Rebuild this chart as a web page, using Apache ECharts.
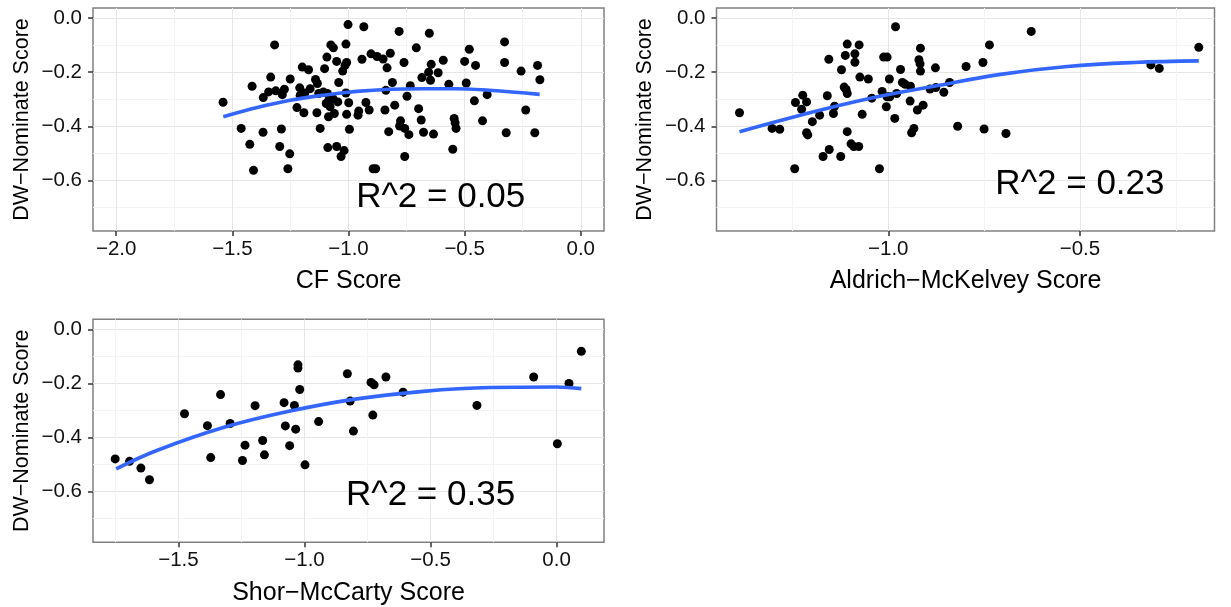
<!DOCTYPE html>
<html>
<head>
<meta charset="utf-8">
<script src="https://cdn.jsdelivr.net/npm/echarts@6/dist/echarts.min.js"></script>
<style>
html,body{margin:0;padding:0;background:#fff;}
#chart{width:1231px;height:607px;}
</style>
</head>
<body>
<div id="chart"></div>
<script>
// ---------- data ----------
var cfPoints = [
[-1.540,-0.311],[-1.462,-0.408],[-1.425,-0.467],[-1.415,-0.252],[-1.409,-0.563],[-1.368,-0.422],
[-1.367,-0.294],[-1.344,-0.273],[-1.335,-0.218],[-1.318,-0.099],[-1.313,-0.269],[-1.296,-0.475],
[-1.289,-0.410],[-1.285,-0.283],[-1.276,-0.263],[-1.261,-0.557],[-1.253,-0.502],[-1.251,-0.225],
[-1.222,-0.331],[-1.210,-0.258],[-1.208,-0.285],[-1.199,-0.181],[-1.192,-0.350],[-1.188,-0.277],
[-1.172,-0.191],[-1.165,-0.261],[-1.142,-0.227],[-1.136,-0.350],[-1.134,-0.242],[-1.122,-0.408],
[-1.128,-0.279],[-1.108,-0.273],[-1.103,-0.187],[-1.096,-0.316],[-1.093,-0.144],[-1.091,-0.279],
[-1.089,-0.479],[-1.086,-0.365],[-1.085,-0.304],[-1.079,-0.328],[-1.076,-0.099],[-1.066,-0.299],
[-1.065,-0.110],[-1.061,-0.353],[-1.051,-0.475],[-1.046,-0.310],[-1.051,-0.160],[-1.042,-0.238],
[-1.032,-0.512],[-1.025,-0.196],[-1.019,-0.490],[-1.015,-0.175],[-1.011,-0.096],[-1.008,-0.164],
[-1.011,-0.277],[-1.008,-0.356],[-1.002,-0.024],[-0.999,-0.313],[-0.996,-0.411],[-0.959,-0.359],
[-0.956,-0.344],[-0.942,-0.152],[-0.934,-0.032],[-0.925,-0.312],[-0.911,-0.340],[-0.903,-0.132],
[-0.894,-0.557],[-0.883,-0.557],[-0.877,-0.142],[-0.851,-0.151],[-0.843,-0.340],[-0.839,-0.267],
[-0.834,-0.184],[-0.827,-0.420],[-0.820,-0.130],[-0.811,-0.238],[-0.801,-0.322],[-0.782,-0.049],
[-0.780,-0.399],[-0.776,-0.380],[-0.761,-0.164],[-0.758,-0.512],[-0.758,-0.408],[-0.748,-0.289],
[-0.740,-0.431],[-0.734,-0.250],[-0.708,-0.110],[-0.698,-0.335],[-0.687,-0.377],[-0.684,-0.220],
[-0.677,-0.422],[-0.655,-0.200],[-0.652,-0.056],[-0.647,-0.230],[-0.644,-0.171],[-0.634,-0.429],
[-0.614,-0.202],[-0.592,-0.156],[-0.568,-0.245],[-0.551,-0.485],[-0.545,-0.371],[-0.541,-0.387],
[-0.537,-0.408],[-0.500,-0.160],[-0.493,-0.240],[-0.480,-0.115],[-0.458,-0.306],[-0.453,-0.175],
[-0.423,-0.380],[-0.403,-0.283],[-0.328,-0.088],[-0.328,-0.164],[-0.321,-0.424],[-0.257,-0.196],
[-0.237,-0.340],[-0.198,-0.424],[-0.186,-0.175],[-0.176,-0.228]
];
var cfFit = [[-1.539,-0.365],[-1.393,-0.331],[-1.251,-0.304],[-1.108,-0.285],[-0.965,-0.271],
[-0.822,-0.263],[-0.680,-0.261],[-0.537,-0.261],[-0.394,-0.267],[-0.177,-0.282]];

var amPoints = [
[-1.388,-0.350],[-1.303,-0.408],[-1.283,-0.411],[-1.244,-0.557],[-1.242,-0.312],[-1.226,-0.337],
[-1.223,-0.285],[-1.213,-0.310],[-1.213,-0.424],[-1.210,-0.432],[-1.198,-0.383],[-1.179,-0.359],
[-1.170,-0.512],[-1.159,-0.287],[-1.155,-0.152],[-1.154,-0.486],[-1.143,-0.353],[-1.140,-0.326],
[-1.124,-0.512],[-1.122,-0.191],[-1.115,-0.255],[-1.112,-0.138],[-1.110,-0.264],[-1.107,-0.096],
[-1.107,-0.279],[-1.107,-0.420],[-1.097,-0.465],[-1.090,-0.475],[-1.087,-0.132],[-1.087,-0.163],
[-1.077,-0.475],[-1.076,-0.099],[-1.074,-0.218],[-1.068,-0.356],[-1.052,-0.225],[-1.043,-0.296],
[-1.023,-0.557],[-1.016,-0.271],[-1.012,-0.144],[-1.005,-0.328],[-1.003,-0.144],[-1.003,-0.291],
[-0.997,-0.225],[-0.996,-0.291],[-0.983,-0.371],[-0.981,-0.032],[-0.978,-0.279],[-0.968,-0.190],
[-0.963,-0.238],[-0.956,-0.245],[-0.943,-0.307],[-0.942,-0.252],[-0.939,-0.424],[-0.933,-0.408],
[-0.924,-0.340],[-0.920,-0.154],[-0.917,-0.169],[-0.916,-0.111],[-0.916,-0.196],[-0.909,-0.322],
[-0.891,-0.262],[-0.877,-0.184],[-0.876,-0.257],[-0.855,-0.274],[-0.840,-0.238],[-0.819,-0.400],
[-0.797,-0.179],[-0.753,-0.164],[-0.750,-0.410],[-0.736,-0.099],[-0.693,-0.427],[-0.627,-0.049],
[-0.315,-0.173],[-0.293,-0.186],[-0.190,-0.108]
];
var amFit = [[-1.388,-0.420],[-1.229,-0.359],[-1.055,-0.299],[-0.881,-0.252],[-0.707,-0.208],
[-0.533,-0.179],[-0.359,-0.164],[-0.190,-0.158]];

var smPoints = [
[-1.751,-0.479],[-1.694,-0.488],[-1.649,-0.513],[-1.615,-0.556],[-1.476,-0.312],[-1.385,-0.356],
[-1.372,-0.474],[-1.333,-0.241],[-1.295,-0.348],[-1.246,-0.485],[-1.236,-0.428],[-1.196,-0.282],
[-1.166,-0.411],[-1.159,-0.464],[-1.081,-0.271],[-1.076,-0.357],[-1.059,-0.430],[-1.040,-0.281],
[-1.035,-0.369],[-1.026,-0.131],[-1.026,-0.143],[-1.019,-0.222],[-0.998,-0.501],[-0.944,-0.341],
[-0.830,-0.164],[-0.819,-0.265],[-0.806,-0.376],[-0.736,-0.196],[-0.724,-0.205],[-0.729,-0.317],
[-0.677,-0.176],[-0.609,-0.232],[-0.316,-0.281],[-0.091,-0.176],[0.003,-0.423],[0.049,-0.200],
[0.098,-0.081]
];
var smFit = [[-1.747,-0.516],[-1.586,-0.448],[-1.322,-0.363],[-1.057,-0.302],[-0.793,-0.257],
[-0.529,-0.229],[-0.264,-0.215],[0.000,-0.213],[0.098,-0.219]];

var panelTitles = ['CF Score', 'Aldrich\u2212McKelvey Score', 'Shor\u2212McCarty Score'];
var yTitle = 'DW\u2212Nominate Score';
var r2Labels = ['R^2 = 0.05', 'R^2 = 0.23', 'R^2 = 0.35'];
var r2Pos = [[-0.603,-0.652],[-0.500,-0.603],[-0.500,-0.603]];

var xRanges = [[-2.1, 0.1], [-1.448, -0.149], [-1.839, 0.188]];
var yRange = [-0.7875, 0.0375];
var xMajor = [[-2,-1.5,-1,-0.5,0], [-1,-0.5], [-1.5,-1,-0.5,0]];
var xMinor = [[-1.75,-1.25,-0.75,-0.25], [-1.25,-0.75,-0.25], [-1.75,-1.25,-0.75,-0.25]];
var yMajor = [0,-0.2,-0.4,-0.6];
var yMinor = [-0.1,-0.3,-0.5,-0.7];

// ---------- chart ----------
var FONT = 'Liberation Sans, Arial, Helvetica, sans-serif';
function fmt(v){ return (v < 0 ? '\u2212' : '') + Math.abs(v).toFixed(1); }

var grids = [
  {left: 93, top: 8, width: 511, height: 223},
  {left: 716.5, top: 8, width: 498, height: 223},
  {left: 93, top: 319.3, width: 511, height: 223}
];
var gridOpts = [], xAxes = [], yAxes = [], series = [];
var pointSets = [cfPoints, amPoints, smPoints];
var fitSets = [cfFit, amFit, smFit];

for (var i = 0; i < 3; i++) {
  gridOpts.push(Object.assign({show: true, borderColor: '#808080', borderWidth: 1.5,
    backgroundColor: '#fff', containLabel: false}, grids[i]));
  // main x axis
  xAxes.push({
    type: 'value', gridIndex: i, position: 'bottom',
    min: xRanges[i][0], max: xRanges[i][1],
    name: panelTitles[i], nameLocation: 'middle', nameGap: 38,
    nameTextStyle: {fontFamily: FONT, fontSize: 25, color: '#000'},
    axisLine: {show: false, onZero: false},
    axisTick: {show: true, length: 5, customValues: xMajor[i], lineStyle: {color: '#333', width: 1.5}},
    axisLabel: {show: true, customValues: xMajor[i], formatter: fmt, margin: 8,
      fontFamily: FONT, fontSize: 20.5, color: '#111'},
    splitLine: {show: true, lineStyle: {color: '#e6e6e6', width: 1}}
  });
  // minor x axis (grid lines only)
  xAxes.push({
    type: 'value', gridIndex: i, position: 'bottom',
    min: xRanges[i][0], max: xRanges[i][1],
    axisLine: {show: false, onZero: false},
    axisTick: {show: false, customValues: xMinor[i]},
    axisLabel: {show: false},
    splitLine: {show: true, lineStyle: {color: '#f3f3f3', width: 1}}
  });
  yAxes.push({
    type: 'value', gridIndex: i, position: 'left',
    min: yRange[0], max: yRange[1],
    name: yTitle, nameLocation: 'middle', nameGap: 60, nameRotate: 90,
    nameTextStyle: {fontFamily: FONT, fontSize: 21.5, color: '#000'},
    axisLine: {show: false, onZero: false},
    axisTick: {show: true, length: 5, customValues: yMajor, lineStyle: {color: '#333', width: 1.5}},
    axisLabel: {show: true, customValues: yMajor, formatter: fmt, margin: 11,
      fontFamily: FONT, fontSize: 20.5, color: '#111'},
    splitLine: {show: true, lineStyle: {color: '#e6e6e6', width: 1}}
  });
  yAxes.push({
    type: 'value', gridIndex: i, position: 'left',
    min: yRange[0], max: yRange[1],
    axisLine: {show: false, onZero: false},
    axisTick: {show: false, customValues: yMinor},
    axisLabel: {show: false},
    splitLine: {show: true, lineStyle: {color: '#f3f3f3', width: 1}}
  });

  series.push({
    type: 'scatter', xAxisIndex: i*2, yAxisIndex: i*2,
    data: pointSets[i], symbol: 'circle', symbolSize: 9,
    itemStyle: {color: '#000', opacity: 1}, silent: true, z: 3
  });
  series.push({
    type: 'line', xAxisIndex: i*2, yAxisIndex: i*2,
    data: fitSets[i], smooth: 0.4, showSymbol: false, symbol: 'none',
    lineStyle: {color: '#3366FF', width: 3.6}, silent: true, z: 4
  });
  series.push({
    type: 'scatter', xAxisIndex: i*2, yAxisIndex: i*2,
    data: [r2Pos[i]], symbol: 'circle', symbolSize: 1,
    itemStyle: {color: 'rgba(255,255,255,0)'}, silent: true, z: 5,
    label: {show: true, position: 'inside', offset: [0, 3], formatter: r2Labels[i],
      fontFamily: FONT, fontSize: 35, color: '#000', opacity: 1,
      textBorderWidth: 0, textBorderColor: 'transparent'}
  });
}

var chart = echarts.init(document.getElementById('chart'), null, {renderer: 'canvas'});
chart.setOption({
  animation: false,
  backgroundColor: '#fff',
  grid: gridOpts,
  xAxis: xAxes,
  yAxis: yAxes,
  series: series
});
</script>
</body>
</html>
